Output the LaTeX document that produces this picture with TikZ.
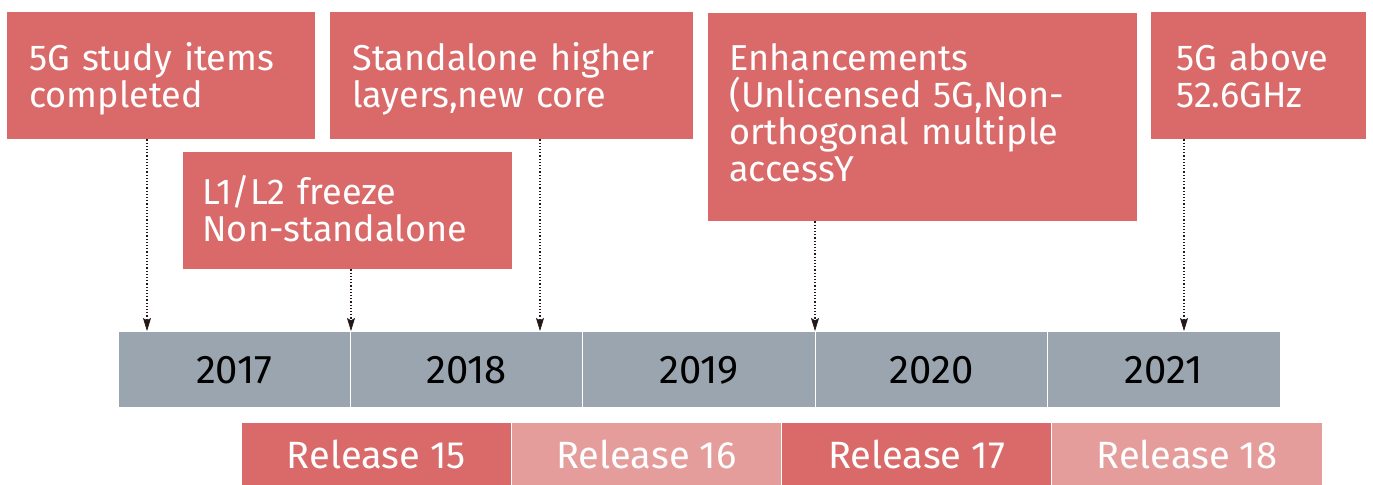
\documentclass[tikz,border=0pt]{standalone}
\usepackage{fontspec}
\setmainfont{Fira Sans}
\usetikzlibrary{arrows.meta,fit}
\definecolor{tred}{HTML}{D96A69}
\definecolor{tpink}{HTML}{E59D9C}
\definecolor{tgray}{HTML}{9BA5AF}
\definecolor{tink}{HTML}{231815}
\begin{document}
\begin{tikzpicture}[x=0.5pt,y=-0.5pt,
  card/.style={fill=tred, draw=none, inner sep=0pt},
  cardtext/.style={text=white, font=\fontsize{18}{18.5}\selectfont,
    align=left, text width=210pt, inner sep=0pt, anchor=base west},
  yearcell/.style={fill=tgray, draw=white, line width=0.5pt, inner sep=0pt,
    minimum width=116.2pt, minimum height=38pt,
    text=black, font=\fontsize{20}{22}\selectfont},
  relcell/.style={draw=white, line width=0.5pt, inner sep=0pt,
    minimum width=135.1pt, minimum height=31.5pt,
    text=white, font=\fontsize{19}{22}\selectfont},
  pointer/.style={draw=tink, line width=0.6pt, densely dotted,
    -{Stealth[length=6.5pt,width=4pt,inset=1.2pt,line width=0.3pt]}}]
\useasboundingbox (0,0) rectangle (1373,485);

% milestone cards
\node[card, fit={(7,12) (315,139)}] (b1) {};
\node[card, fit={(330,12) (693,139)}] (b2) {};
\node[card, fit={(183,152) (512,269)}] (b3) {};
\node[card, fit={(708,13) (1137,221)}] (b4) {};
\node[card, fit={(1151,12) (1366,139)}] (b5) {};

\node[cardtext] (t1) at (29,71) {5G study items\\completed};
\node[cardtext] (t2) at (352,71) {Standalone higher\\layers,new core};
\node[cardtext] (t3) at (202,205) {L1/L2 freeze\\Non-standalone};
\node[cardtext] (t4) at (729,71) {Enhancements\\(Unlicensed 5G,Non-\\orthogonal multiple\\accessY};
\node[cardtext] (t5) at (1176,71) {5G above\\52.6GHz};

% year scale
\node[yearcell] (y17) at (234.2,370) {2017};
\node[yearcell] (y18) at (466.6,370) {2018};
\node[yearcell] (y19) at (699,370) {2019};
\node[yearcell] (y20) at (931.4,370) {2020};
\node[yearcell] (y21) at (1163.8,370) {2021};

% releases
\node[relcell, fill=tred]  (r15) at (376.3,454) {Release 15};
\node[relcell, fill=tpink] (r16) at (646.5,454) {Release 16};
\node[relcell, fill=tred]  (r17) at (916.7,454) {Release 17};
\node[relcell, fill=tpink] (r18) at (1186.9,454) {Release 18};

% pointers from cards down to the year scale
\coordinate (p1) at (147,331);
\coordinate (p2) at (351,331);
\coordinate (p3) at (540,331);
\coordinate (p4) at (815,331);
\coordinate (p5) at (1184,331);
\draw[pointer] (b1.south -| p1) -- (p1);
\draw[pointer] (b3.south -| p2) -- (p2);
\draw[pointer] (b2.south -| p3) -- (p3);
\draw[pointer] (b4.south -| p4) -- (p4);
\draw[pointer] (b5.south -| p5) -- (p5);
\end{tikzpicture}
\end{document}
